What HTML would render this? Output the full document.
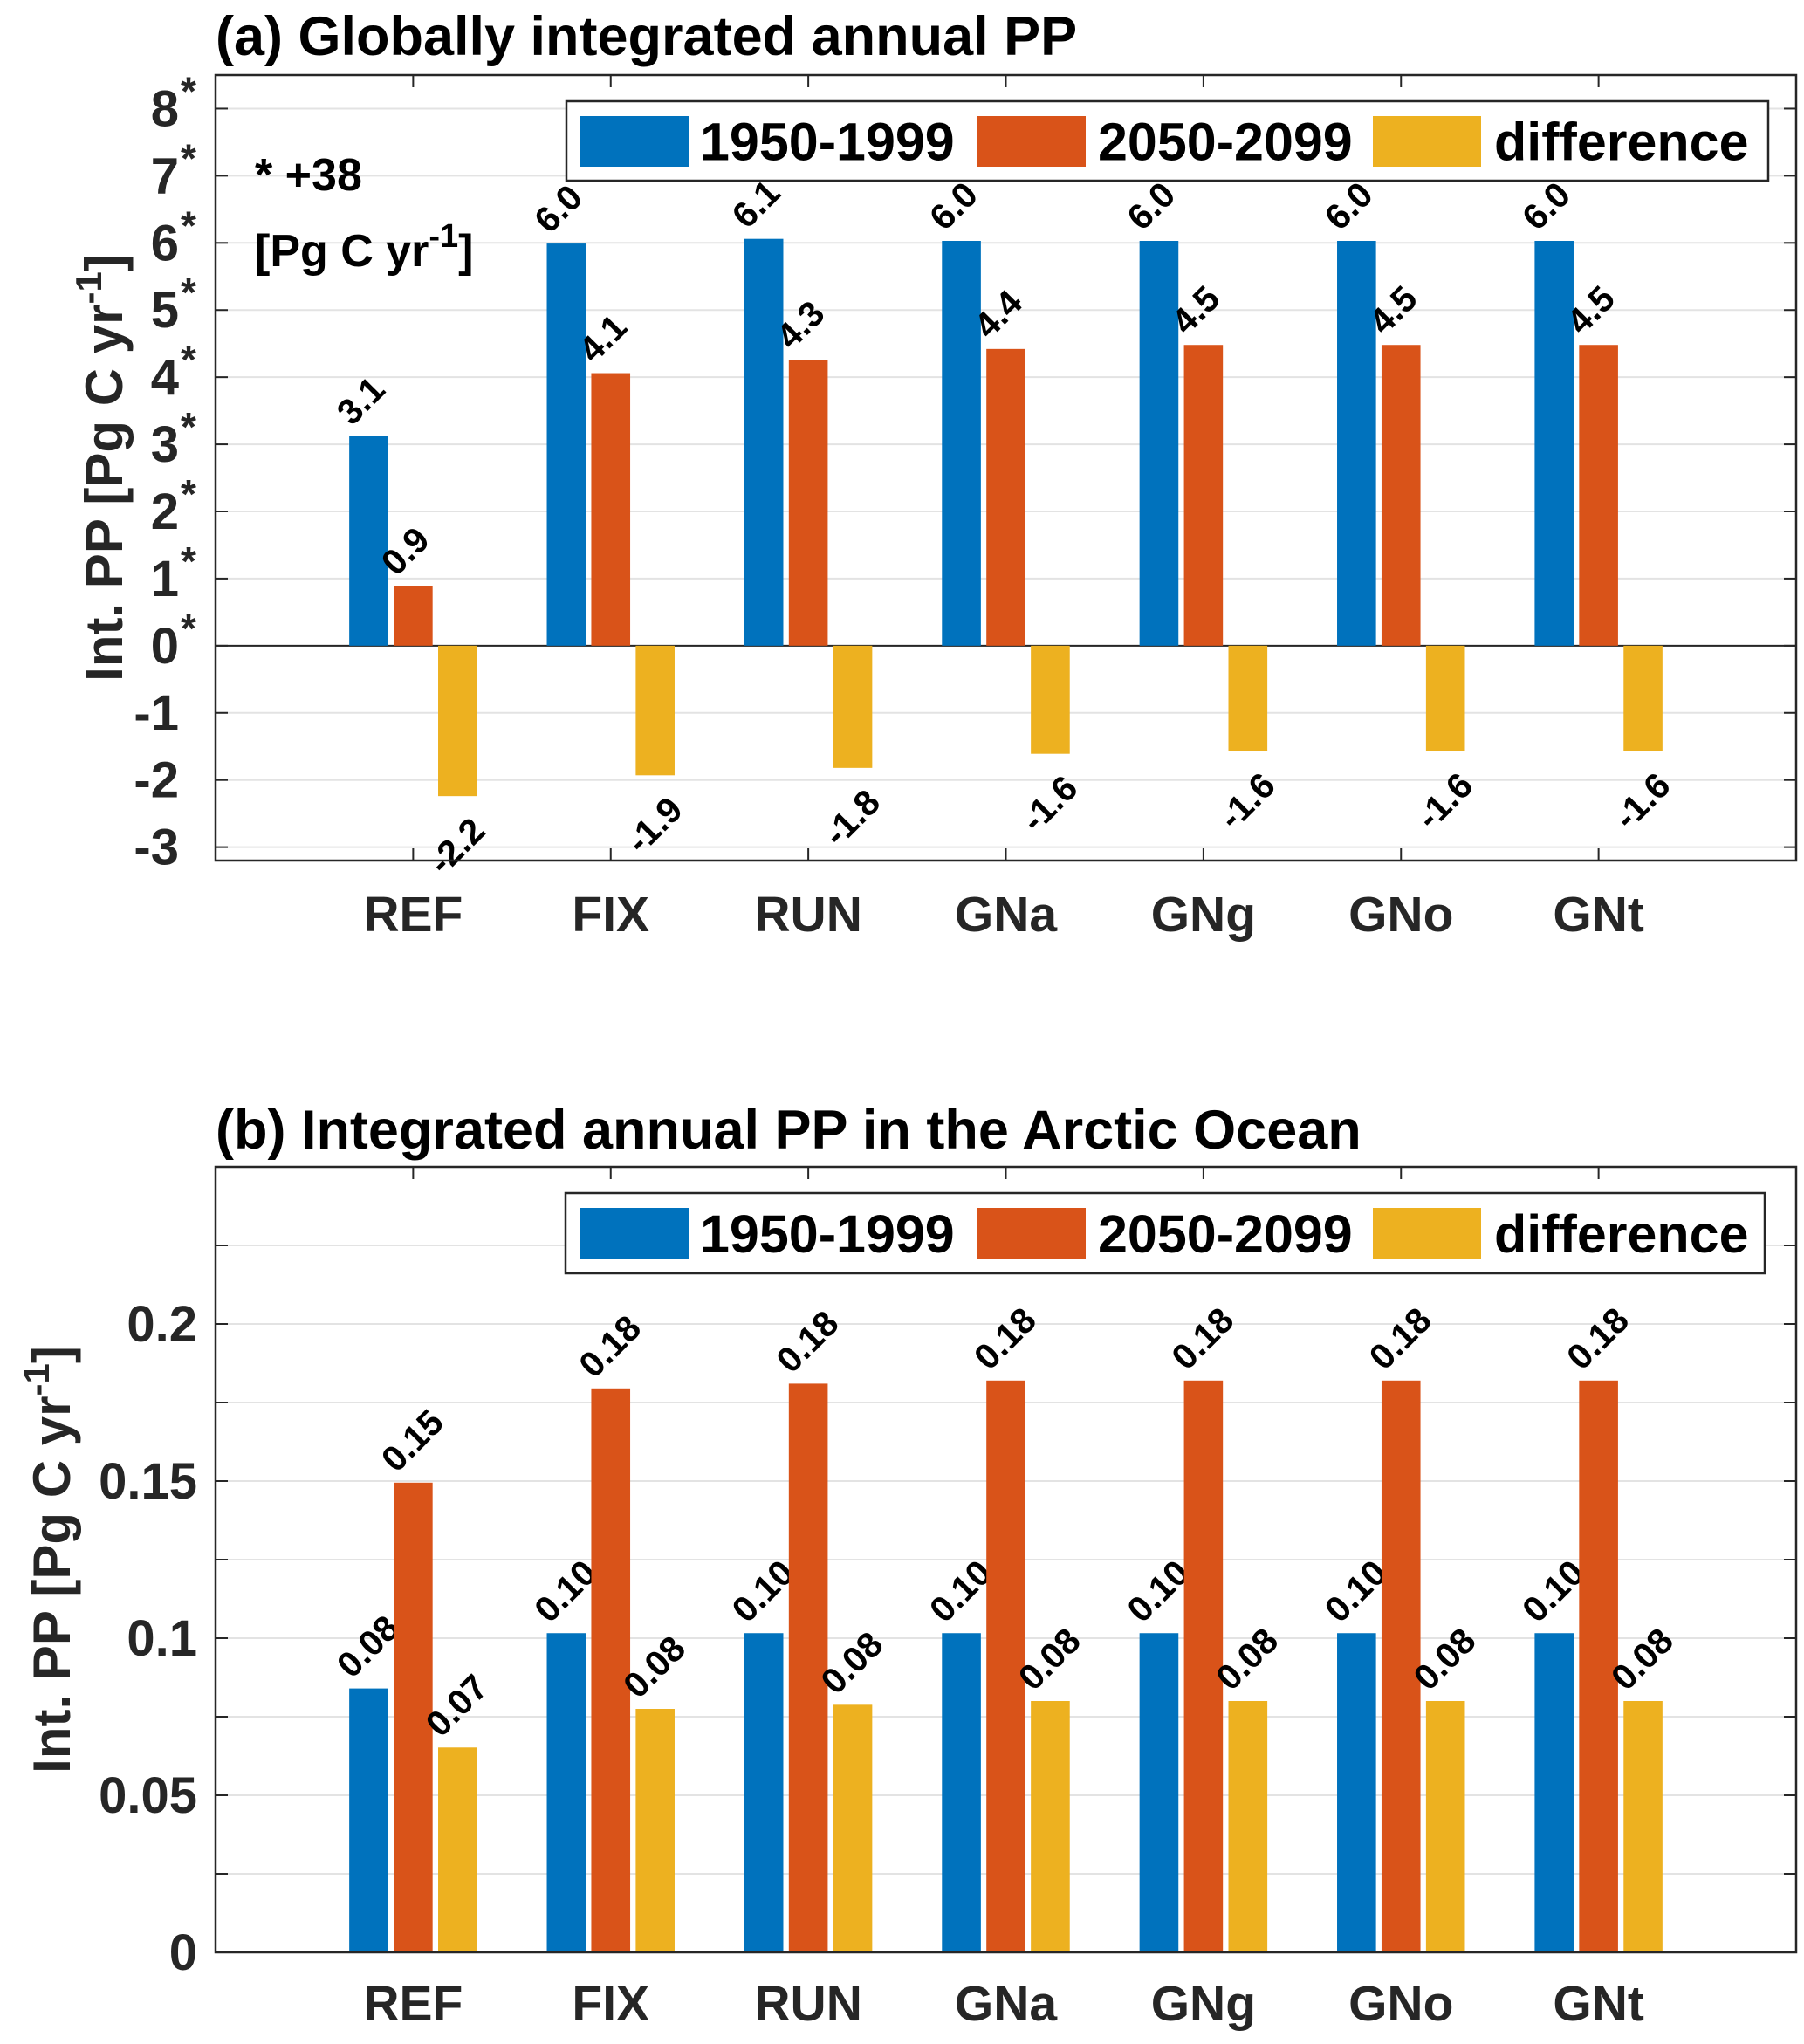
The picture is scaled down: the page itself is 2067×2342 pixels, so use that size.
<!DOCTYPE html>
<html><head><meta charset="utf-8"><style>
html,body{margin:0;padding:0;background:#fff;}
svg{display:block;font-family:"Liberation Sans",Arial,sans-serif;font-weight:bold;}
</style></head><body>
<svg id="fig" width="2067" height="2342" viewBox="0 0 2067 2342"></svg>
<script>
const categories = ["REF","FIX","RUN","GNa","GNg","GNo","GNt"];
const seriesNames = ["1950-1999","2050-2099","difference"];
const globalPast = [3.13,5.99,6.06,6.03,6.03,6.03,6.03];
const globalFuture = [0.89,4.06,4.26,4.42,4.48,4.48,4.48];
const globalDiff = [-2.24,-1.93,-1.82,-1.61,-1.57,-1.57,-1.57];
const arcticPast = [0.084,0.1016,0.1016,0.1016,0.1016,0.1016,0.1016];
const arcticFuture = [0.1495,0.1795,0.181,0.182,0.182,0.182,0.182];
const arcticDiff = [0.0652,0.0775,0.0788,0.080,0.080,0.080,0.080];
const globalTicks = [-3,-2,-1,0,1,2,3,4,5,6,7,8];
const arcticTicks = [0,0.05,0.1,0.15,0.2];
const arcticGrid = [0.025,0.075,0.125,0.175,0.225];
const colors = ["#0072BD","#D95319","#EDB120"];
const NS="http://www.w3.org/2000/svg";
const svg=document.getElementById('fig');
function mk(tag,attrs,parent,text){const e=document.createElementNS(NS,tag);for(const k in attrs)e.setAttribute(k,attrs[k]);if(text!==undefined)e.textContent=text;(parent||svg).appendChild(e);return e;}

function panel(o){
  const g=mk('g',{});
  
  
  const L=247,R=2058,T=o.top,B=o.bottom;
  const x=v=>L+(v)*(R-L)/8;
  const y=v=>B-(v-o.ymin)*(B-T)/(o.ymax-o.ymin);
  o.grid.forEach(v=>{const l=mk('line',{x1:L,x2:R,y1:y(v),y2:y(v),stroke:'#e3e3e3','stroke-width':2},g);
    
    mk('line',{x1:L,x2:L+14,y1:y(v),y2:y(v),stroke:'#262626','stroke-width':2},g);
    mk('line',{x1:R,x2:R-14,y1:y(v),y2:y(v),stroke:'#262626','stroke-width':2},g);});
  categories.forEach((c,i)=>{const xx=x(i+1);
    mk('line',{x1:xx,x2:xx,y1:B,y2:B-14,stroke:'#262626','stroke-width':2},g);
    mk('line',{x1:xx,x2:xx,y1:T,y2:T+14,stroke:'#262626','stroke-width':2},g);
    const t=mk('text',{x:xx,y:o.catY,'text-anchor':'middle','font-size':57,fill:'#262626'},g,c);
    });
  if(o.ymin<0){const z=mk('line',{x1:L,x2:R,y1:y(0),y2:y(0),stroke:'#262626','stroke-width':2},g);}
  const offs=[-0.225,0,0.225], bw=0.197;
  o.series.forEach((arr,s)=>{arr.forEach((v,i)=>{
    const cx=x(i+1+offs[s]), w=bw*(R-L)/8, x0=cx-w/2;
    const y0=Math.min(y(v),y(0)), h=Math.abs(y(v)-y(0));
    const r=mk('rect',{x:x0,y:y0,width:w,height:h,fill:colors[s]},g);
    
    
    const lab=v.toFixed(o.dec);
    let ax,ay;
    if(v>=0){ax=x0+3;ay=y(v)-10;}else{ax=x0+6;ay=y(v)+92;}
    const t=mk('text',{x:ax,y:ay,'font-size':41,fill:'#000',transform:`rotate(-45 ${ax} ${ay})`},g,lab);
    
  });});
  o.ticks.forEach(v=>{
    const t=mk('text',{x:o.tickX,y:y(v)+20,'text-anchor':'end','font-size':58,fill:'#262626'},g,String(v));
    
    if(o.star && v>=0){mk('text',{x:o.tickX+2,y:y(v)-4,'font-size':46,fill:'#262626'},g,'*');}
  });
  mk('rect',{x:L,y:T,width:R-L,height:B-T,fill:'none',stroke:'#262626','stroke-width':2.5},g);
  const tt=mk('text',{x:247,y:o.titleY,'font-size':63,fill:'#000'},g,o.title);
  
  const cy=(T+B)/2;
  const yl=mk('text',{x:o.ylabX,y:cy,'text-anchor':'middle','font-size':60,fill:'#262626',transform:`rotate(-90 ${o.ylabX} ${cy})`},g);
  
  mk('tspan',{},yl,'Int. PP [Pg C yr');mk('tspan',{dy:-24,'font-size':42},yl,'-1');mk('tspan',{dy:24},yl,']');
  const lg=mk('g',{},g);
  mk('rect',{x:o.leg[0],y:o.leg[1],width:o.leg[2]-o.leg[0],height:o.leg[3]-o.leg[1],fill:'#fff',stroke:'#262626','stroke-width':2.5},lg);
  const sw=[665,1120,1573], tx=[802,1258,1712];
  seriesNames.forEach((n,s)=>{
    const r=mk('rect',{x:sw[s],y:o.leg[1]+17,width:124,height:o.leg[3]-o.leg[1]-33,fill:colors[s]},lg);
    
    const t=mk('text',{x:tx[s],y:(o.leg[1]+o.leg[3])/2+22,'font-size':61,fill:'#000'},lg,n);
    
  });
  return {g,y};
}
const pa=panel({name:'panel-a-global',top:86,bottom:986,ymin:-3.2,ymax:8.5,grid:globalTicks,ticks:globalTicks,
  series:[globalPast,globalFuture,globalDiff],dec:1,tickX:205,star:true,catY:1067,titleY:63,
  title:'(a) Globally integrated annual PP',ylabX:140,leg:[649,116,2026,207]});
const an=mk('text',{x:292,y:218,'font-size':52,fill:'#000'},pa.g,'* +38');

const an2=mk('text',{x:292,y:305,'font-size':52,fill:'#000'},pa.g);

mk('tspan',{},an2,'[Pg C yr');mk('tspan',{dy:-22,'font-size':38},an2,'-1');mk('tspan',{dy:22},an2,']');

panel({name:'panel-b-arctic',top:1337,bottom:2237,ymin:0,ymax:0.25,grid:arcticTicks.concat(arcticGrid),ticks:arcticTicks,
  series:[arcticPast,arcticFuture,arcticDiff],dec:2,tickX:226,star:false,catY:2315,titleY:1316,
  title:'(b) Integrated annual PP in the Arctic Ocean',ylabX:80,leg:[648,1367,2022,1459]});
</script>
</body></html>
